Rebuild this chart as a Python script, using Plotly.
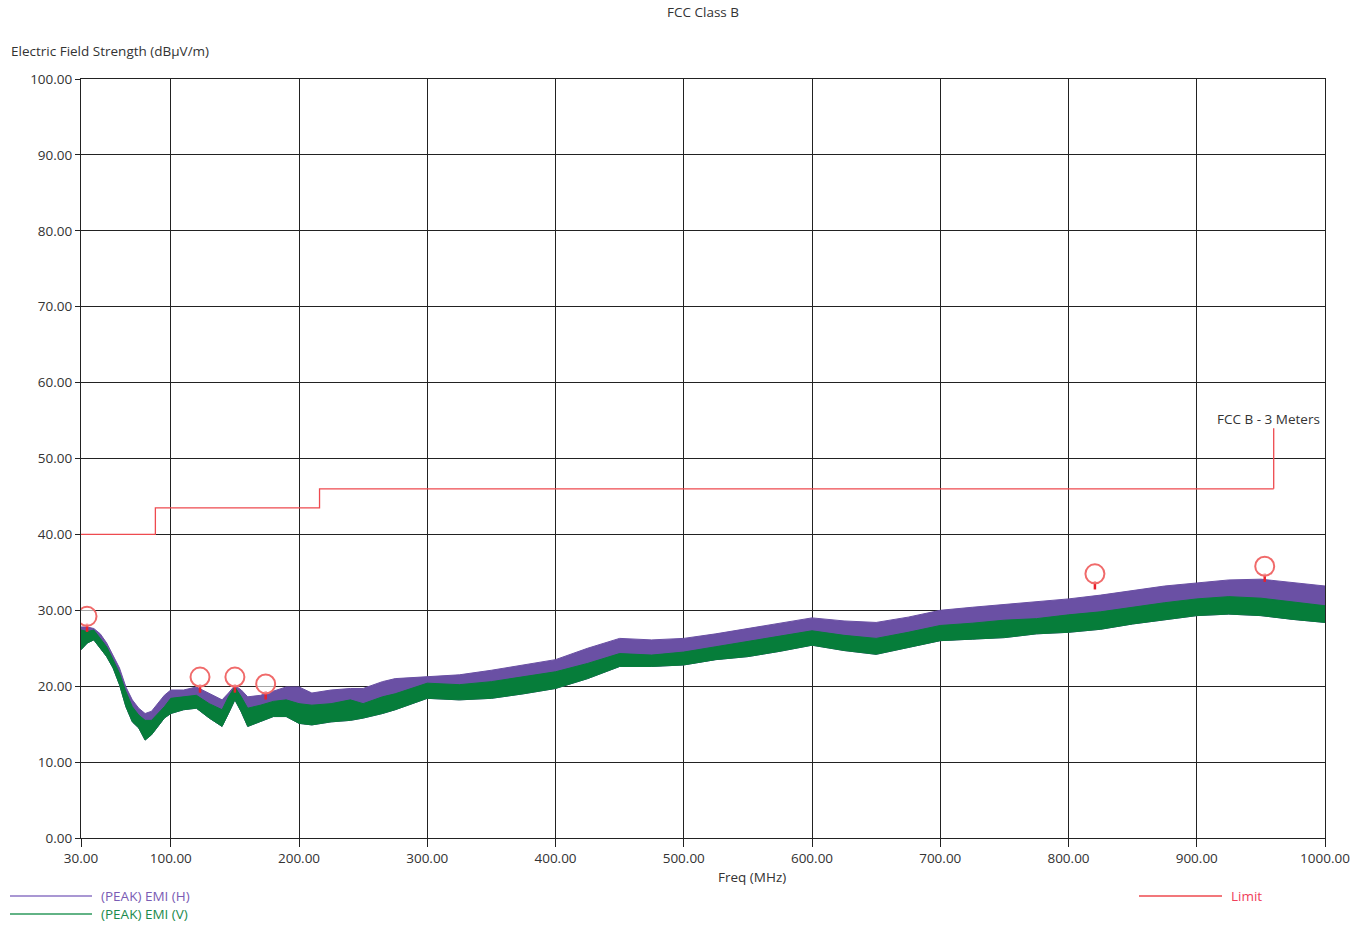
import plotly.graph_objects as go

# ---------------- data ----------------
freq_mhz = [30, 35, 40, 45, 50, 55, 60, 65, 70, 75, 80, 85, 90, 95, 100, 110, 120, 130, 140, 145,
            150, 155, 160, 170, 180, 190, 200, 210, 225, 240, 250, 265, 275, 300, 325, 350, 375, 400,
            425, 450, 475, 500, 525, 550, 575, 600, 625, 650, 675, 700, 725, 750, 775, 800, 825, 850,
            875, 900, 925, 950, 975, 1000]

# (PEAK) EMI (H) - upper edge of the noisy trace
emi_h_top = [27.8, 27.8, 27.6, 26.9, 25.7, 24.1, 22.4, 19.9, 18.2, 17.1, 16.4, 16.7, 17.7, 18.8, 19.5,
             19.5, 19.9, 19.1, 18.2, 19.1, 20.1, 19.5, 18.6, 18.8, 19.3, 19.9, 19.9, 19.1, 19.5, 19.7,
             19.7, 20.6, 21.0, 21.2, 21.5, 22.1, 22.8, 23.5, 25.0, 26.3, 26.1, 26.3, 26.9, 27.6, 28.3,
             29.0, 28.6, 28.4, 29.1, 30.0, 30.4, 30.8, 31.1, 31.5, 32.0, 32.6, 33.2, 33.6, 34.0, 34.1,
             33.7, 33.2]

# (PEAK) EMI (V) - upper and lower edges of the noisy trace
emi_v_top = [27.4, 27.2, 27.4, 26.3, 25.2, 23.5, 21.7, 19.3, 17.3, 16.2, 15.5, 15.5, 16.4, 17.3, 18.4,
             18.6, 18.8, 17.7, 16.9, 18.6, 19.9, 18.6, 17.1, 17.5, 18.0, 18.2, 17.7, 17.5, 17.7, 18.2,
             17.7, 18.6, 19.0, 20.4, 20.2, 20.6, 21.2, 21.9, 23.0, 24.3, 24.1, 24.5, 25.2, 25.9, 26.6,
             27.3, 26.7, 26.3, 27.1, 28.0, 28.3, 28.7, 28.9, 29.4, 29.8, 30.4, 31.0, 31.5, 31.8, 31.6,
             31.1, 30.6]
emi_v_bottom = [24.8, 25.7, 26.1, 25.0, 23.9, 22.4, 20.2, 17.3, 15.3, 14.5, 12.9, 13.6, 14.7, 15.8, 16.4,
                16.9, 17.1, 15.8, 14.7, 16.4, 18.2, 16.6, 14.7, 15.3, 16.0, 16.0, 15.1, 14.9, 15.3, 15.5,
                15.8, 16.4, 16.9, 18.4, 18.2, 18.4, 19.0, 19.7, 21.0, 22.6, 22.6, 22.8, 23.5, 23.9, 24.6,
                25.4, 24.7, 24.2, 25.1, 26.0, 26.2, 26.4, 26.9, 27.1, 27.5, 28.2, 28.8, 29.3, 29.5, 29.3,
                28.8, 28.4]

# FCC B - 3 Meters limit (step edges and levels)
limit_freq = [30, 88, 216, 960]
limit_level = [40, 43.5, 46, 46]
limit_label_level = 54

# peak markers
peak_freq = [34.7, 122.8, 150, 174, 820.6, 953]
peak_level = [29.2, 21.2, 21.2, 20.3, 34.8, 35.8]
peak_stem_level = [27.7, 19.7, 19.7, 18.8, 33.3, 34.3]

x_ticks = [30, 100, 200, 300, 400, 500, 600, 700, 800, 900, 1000]
y_ticks = [0, 10, 20, 30, 40, 50, 60, 70, 80, 90, 100]

PURPLE = "#6a50a4"
GREEN = "#067d3a"
RED = "#ee4a4f"
FONT = "Open Sans"
FS = 13.5

fig = go.Figure()

# H band: from V bottom up to H top
fig.add_trace(go.Scatter(
    x=freq_mhz + freq_mhz[::-1], y=emi_h_top + emi_v_bottom[::-1],
    fill="toself", fillcolor=PURPLE, line=dict(color=PURPLE, width=1),
    mode="lines", showlegend=False, hoverinfo="skip"))
# V band
fig.add_trace(go.Scatter(
    x=freq_mhz + freq_mhz[::-1], y=emi_v_top + emi_v_bottom[::-1],
    fill="toself", fillcolor=GREEN, line=dict(color=GREEN, width=1),
    mode="lines", showlegend=False, hoverinfo="skip"))

# limit step line
fig.add_trace(go.Scatter(
    x=limit_freq, y=limit_level, mode="lines", line=dict(color=RED, width=1.3, shape="hv"),
    showlegend=False, hoverinfo="skip"))
# callout to label
fig.add_trace(go.Scatter(
    x=[limit_freq[-1], limit_freq[-1]], y=[limit_level[-1], limit_label_level], mode="lines",
    line=dict(color=RED, width=1.3), showlegend=False, hoverinfo="skip"))

# peak marker stems
fig.add_trace(go.Scatter(
    x=peak_freq, y=peak_stem_level, mode="markers",
    marker=dict(symbol="line-ns", size=6, line=dict(color="#e8202a", width=2.5)),
    showlegend=False, hoverinfo="skip"))
# peak markers
fig.add_trace(go.Scatter(
    x=peak_freq, y=peak_level, mode="markers",
    marker=dict(symbol="circle", size=19, color="rgba(255,255,255,0.6)",
                line=dict(color="#f06a6a", width=2)),
    showlegend=False, hoverinfo="skip"))

axis_common = dict(showline=True, linecolor="#222", linewidth=1, mirror=True,
                   showgrid=True, gridcolor="#222", gridwidth=1, zeroline=False,
                   ticks="outside", tickcolor="#222", tickfont=dict(family=FONT, size=FS, color="#333"))

fig.update_xaxes(range=[30, 1000], tickvals=x_ticks, ticktext=[f"{v:.2f}" for v in x_ticks],
                 ticklen=8, **axis_common)
fig.update_yaxes(range=[0, 100], tickvals=y_ticks, ticktext=[f"{v:.2f}" for v in y_ticks],
                 ticklen=5, **axis_common)

def px(x):
    return (x - 81) / 1244

def py(y):
    return (838 - y) / 759

ann = [
    dict(text="FCC Class B", x=0.5, y=py(12), font=dict(size=FS, color="#333")),
    dict(text="Electric Field Strength (dBµV/m)", x=px(9), y=py(51), xanchor="left",
         font=dict(size=FS, color="#333")),
    dict(text="Freq (MHz)", x=px(752), y=py(877), font=dict(size=FS, color="#333")),
    dict(text="FCC B - 3 Meters", x=px(1268), y=py(419), font=dict(size=FS, color="#333")),
    dict(text="(PEAK) EMI (H)", x=px(99), y=py(896), xanchor="left", font=dict(size=FS, color="#7a5cb4")),
    dict(text="(PEAK) EMI (V)", x=px(99), y=py(914), xanchor="left", font=dict(size=FS, color="#1a8a4c")),
    dict(text="Limit", x=px(1229), y=py(896), xanchor="left", font=dict(size=FS, color="#f0405a")),
]
for a in ann:
    a.setdefault("xanchor", "center")
    a.update(xref="paper", yref="paper", showarrow=False, yanchor="middle")
    a["font"]["family"] = FONT

shapes = [
    dict(type="line", xref="paper", yref="paper", x0=px(10), x1=px(92), y0=py(896), y1=py(896),
         line=dict(color="#8c74c4", width=1.3)),
    dict(type="line", xref="paper", yref="paper", x0=px(10), x1=px(92), y0=py(914), y1=py(914),
         line=dict(color="#2e9a5e", width=1.3)),
    dict(type="line", xref="paper", yref="paper", x0=px(1139), x1=px(1222), y0=py(896), y1=py(896),
         line=dict(color=RED, width=1.3)),
]

fig.update_layout(
    width=1369, height=926, autosize=False,
    margin=dict(l=81, r=44, t=79, b=88),
    paper_bgcolor="white", plot_bgcolor="white",
    font=dict(family=FONT, size=FS, color="#333"),
    annotations=ann, shapes=shapes, showlegend=False,
)

# remove the page's default body margin so the figure fills the window exactly
fig.write_html("out.html",
               config={"displayModeBar": False},
               post_script="document.body.style.margin='0';document.body.style.overflow='hidden';")
